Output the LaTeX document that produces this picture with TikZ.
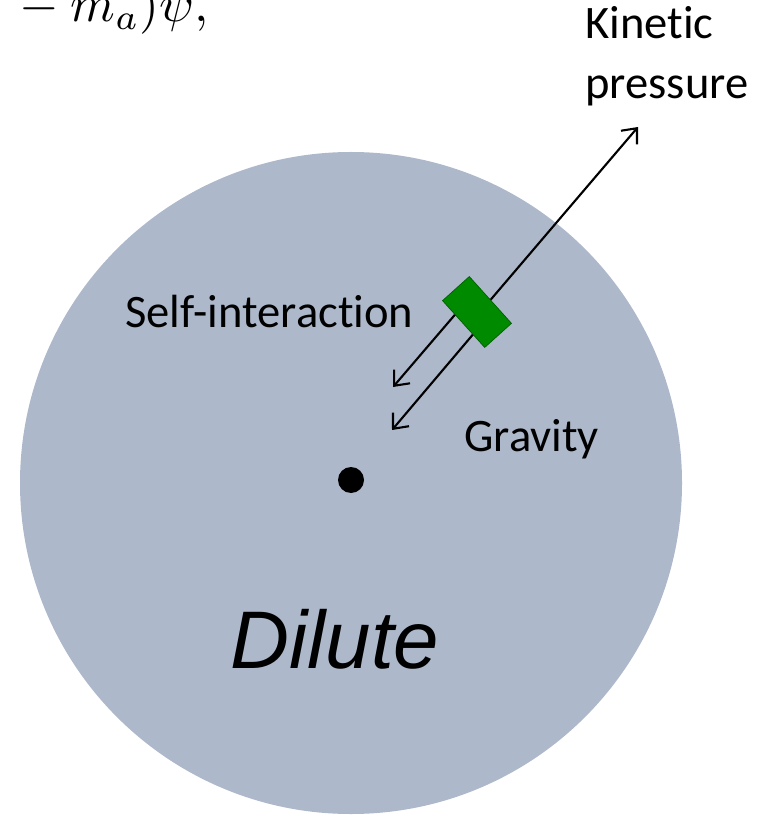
\documentclass[tikz,border=0pt]{standalone}
\usepackage{fontspec}
\newfontfamily\calibri[Ligatures={NoCommon,NoContextual}]{Carlito}
\newfontfamily\arialfont{Liberation Sans}
\usetikzlibrary{arrows.meta,calc}
\definecolor{halo}{RGB}{173,185,202}
\definecolor{boxgreen}{RGB}{0,138,0}
\definecolor{boxedge}{RGB}{0,95,0}
\tikzset{
    force/.style={-{Straight Barb[length=7pt,width=12pt]}, line width=1.2pt},
    lbl/.style={anchor=base west, inner sep=0pt, font=\calibri\fontsize{26.5}{34.5}\selectfont},
}
\begin{document}
\begin{tikzpicture}[x=0.02cm,y=-0.02cm]
    \useasboundingbox (0,0) rectangle (772,820);
    \fill[halo] (351,483) circle (331);
    \node[circle, fill=black, inner sep=0pt, minimum size=0.52cm] (core) at (351,480) {};
    \node[lbl, align=left] (kinetic) at (585,99) {Kinetic\\pressure};
    \node[lbl] (selfint) at (125,327) {Self-interaction};
    \node[lbl] (gravity) at (464,451) {Gravity};
    \node[anchor=base west, inner sep=0pt, font=\arialfont\itshape\fontsize{46.5}{54}\selectfont] (dilute) at (230,668) {Dilute};
    \node[anchor=base east, inner sep=0pt, scale=2.9] (eqn) at (210,22) {${}-m_a)\psi,$};
    % Fluid element
    \node[draw=boxedge, fill=boxgreen, rotate=-48, minimum width=1.26cm, minimum height=0.72cm, inner sep=0pt] (parcel) at (477,312) {};
    % Forces
    \coordinate (kintip) at (638,127);
    \coordinate (selftip) at (393,387);
    \coordinate (gravtip) at (392,430);
    \draw[force] (parcel.north) -- (kintip);
    \draw[force] ($(parcel.south west)!0.3!(parcel.south east)$) -- (selftip);
    \draw[force] ($(parcel.south west)!0.72!(parcel.south east)$) -- (gravtip);
\end{tikzpicture}
\end{document}
